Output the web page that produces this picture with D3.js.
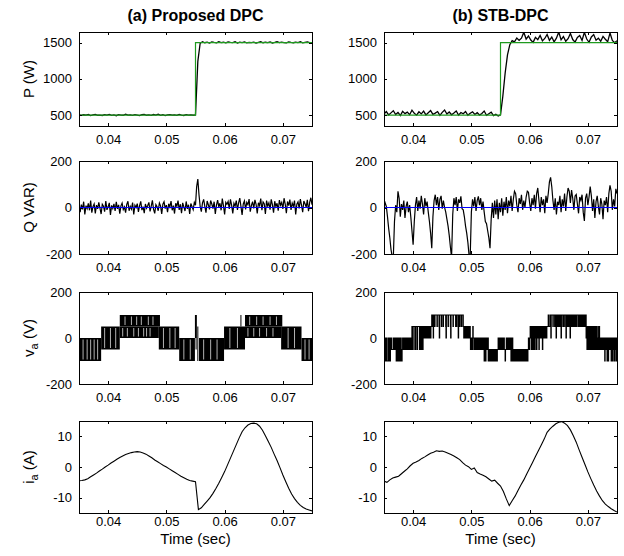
<!DOCTYPE html>
<html>
<head>
<meta charset="utf-8">
<script src="https://cdn.jsdelivr.net/npm/d3@7"></script>
<style>
body { margin: 0; background: #fff; }
text { font-family: "Liberation Sans", Arial, Helvetica, sans-serif; fill: #000; }
</style>
</head>
<body>
<svg id="chart" width="624" height="556"></svg>
<script>
// time axis (sec)
var t_start = 0.035, t_end = 0.075;
var x_ticks = [0.04, 0.05, 0.06, 0.07];

// P (W), one sample every 0.4 ms from t_start
var p_step = 0.0004;
var p_a = [502, 497, 505, 499, 508, 494, 503, 511, 498, 501,
    495, 506, 500, 509, 497, 503, 492, 507, 501, 498,
    512, 499, 504, 496, 507, 500, 493, 505, 509, 498,
    503, 496, 508, 501, 514, 497, 505, 493, 502, 507,
    499, 504, 496, 510, 501, 495, 506, 500, 503, 498,
    502, 1240, 1490,
    1512, 1497, 1505, 1493, 1508, 1501, 1496, 1510, 1499, 1504,
    1495, 1507, 1502, 1498, 1511, 1493, 1505, 1500, 1509, 1496,
    1503, 1498, 1506, 1492, 1501, 1510, 1497, 1504, 1499, 1507,
    1494, 1502, 1513, 1498, 1505, 1500, 1496, 1509, 1502, 1497,
    1506, 1499, 1511, 1495, 1503, 1508, 1500, 1497];
var p_b = [515, 548, 502, 531, 560, 508, 537, 495, 552, 520,
    541, 506, 568, 524, 499, 546, 517, 555, 503, 533,
    562, 511, 528, 549, 496, 538, 571, 514, 543, 505,
    529, 557, 500, 536, 518, 550, 497, 526, 545, 509,
    534, 501, 522, 556, 498, 519, 540, 493, 511, 488,
    505, 760, 1080, 1330, 1470,
    1525, 1508, 1562, 1530, 1560, 1642, 1548, 1590, 1535, 1502,
    1571, 1540, 1598, 1523, 1556, 1612, 1530, 1575, 1509, 1560,
    1644, 1538, 1582, 1517, 1553, 1625, 1541, 1505, 1569, 1596,
    1528, 1640, 1548, 1503, 1577, 1610, 1533, 1560, 1518, 1585,
    1545, 1510, 1632, 1530, 1498, 1525];
// P reference (green)
var p_ref_t = [0.035, 0.055, 0.055, 0.075];
var p_ref = [500, 500, 1500, 1500];

// Q (VAR), one sample every 0.2 ms
var q_step = 0.0002;
var q_a = [5, -20, 12, -8, 25, -30, 8, -5, 18, -12, 30, -22, 4, 15, -25, 10, -6, 22, -3, -28,
    14, 6, -18, 28, -10, 3, 20, -32, 9, -4, 16, -15, 24, -6, 11, -26, 7, 19, -9, 2,
    -22, 13, 27, -14, 5, -7, 21, -30, 10, 0, 17, -19, 8, 26, -11, 4, -24, 15, -3, 9,
    22, -17, 6, 31, -8, -25, 12, 3, -14, 19, 7, -28, 14, 25, -5, 10, -20, 16, 2, 28,
    -12, 8, -26, 18, 5, 30, -10, 14, -24, 20, 3, -15, 26, -6, 12, -28, 17, 4, -9, 22,
    10, 90, 122, 55, 5, -18, 20, 35, 5, -22, 28, 12, -8, 30, 15, -5, 25, -28, 10, 32,
    3, 18, -12, 38, 8, -30, 22, 14, 26, -6, 35, 10, -25, 18, 6, 30, -10, 20, 40, 5,
    -32, 15, 28, -8, 22, 12, 36, -18, 9, 25, -4, 33, 14, -26, 20, 8, 38, -12, 24, 16,
    -28, 30, 6, 20, -9, 35, 12, -22, 27, 4, 18, -14, 32, 10, 22, -6, 40, 15, -24, 26,
    8, 34, -10, 19, 5, 30, -30, 14, 24, -4, 36, 10, -20, 28, 16, 2, 33, -16, 22, 42,
    12];
var q_b = [0, 20, 5, -40, -90, -130, -180, -210, -215, -60,
    10, -20, 70, 40, -40, 15, -10, 30, -45, 5,
    25, -20, 10, -40, -100, -160, -60, 10, 45, -15,
    30, -5, 50, 15, -30, 40, 5, 25, -20, -60,
    -110, -175, -40, 30, 55, 10, 45, -10, 35, 50,
    -5, 30, 0, -20, -50, -80, -120, -170, -215, -30,
    40, 10, 45, -15, 35, 20, 48, -5, -10, -40,
    -80, -110, -150, -205, -210, -20, 35, 5, 45, -15,
    30, 48, 10, 40, -10, 25, -20, -60, -70, -100,
    -130, -175, -50, 20, -45, 30, -30, 35, -50, 20,
    -20, 40, -35, 25, -10, 45, -25, 30, 5, 50,
    -15, 35, 70, 60, 10, -20, 40, 15, 55, -10,
    30, 0, 45, 70, 65, 20, -15, 40, 10, 55,
    -5, 60, 84, 30, -20, 45, 10, 35, -25, 50,
    20, 60, 110, 130, 90, 30, -10, 40, -30, 25,
    10, 50, -20, 35, 5, 60, -15, 45, 84, 70,
    20, 75, 40, -10, 50, 56, 15, -25, 45, 30,
    55, -20, -58, 40, 60, 10, 45, 90, 50, -15,
    35, -45, 25, 50, 5, -30, 40, 15, -50, 30,
    10, 45, -20, 60, 95, 70, -10, 35, 5, 80,
    60];
// Q reference (blue)
var q_ref_t = [0.035, 0.075];
var q_ref = [0, 0];

// v_a (V), proposed DPC: densely switched bands [t0, t1, low, high]
var va_a_blocks = [[0.0350, 0.0388, -100, 0], [0.0388, 0.0420, -50, 50],
    [0.0420, 0.0489, 50, 100], [0.0420, 0.0487, 0, 50], [0.0487, 0.0522, -50, 50],
    [0.0522, 0.0549, -100, 0], [0.0549, 0.0552, 0, 100],
    [0.0556, 0.0599, -100, 0], [0.0599, 0.0635, -50, 50],
    [0.0635, 0.0699, 50, 100], [0.0635, 0.0697, 0, 50], [0.0697, 0.0732, -50, 50],
    [0.0732, 0.0750, -100, 0]];
// short dwell gaps inside the bands [t, low, high]
var va_a_gaps = [[0.0357, -100, 0], [0.0364, -100, 0], [0.0370, -100, 0], [0.0376, -100, 0], [0.0382, -100, 0],
    [0.0394, -50, 50], [0.0404, -50, 50], [0.0413, -50, 50],
    [0.0429, 50, 100], [0.0440, 50, 100], [0.0449, 50, 100], [0.0457, 50, 100], [0.0469, 50, 100], [0.0477, 50, 100],
    [0.0425, 0, 50], [0.0433, 0, 50], [0.0444, 0, 50], [0.0452, 0, 50], [0.0461, 0, 50], [0.0466, 0, 50], [0.0472, 0, 50],
    [0.0495, -50, 50], [0.0506, -50, 50], [0.0515, -50, 50],
    [0.0530, -100, 0], [0.0541, -100, 0],
    [0.0564, -100, 0], [0.0576, -100, 0], [0.0587, -100, 0],
    [0.0609, -50, 50], [0.0622, -50, 50],
    [0.0643, 50, 100], [0.0655, 50, 100], [0.0666, 50, 100], [0.0678, 50, 100], [0.0689, 50, 100],
    [0.0640, 0, 50], [0.0650, 0, 50], [0.0660, 0, 50], [0.0672, 0, 50], [0.0683, 0, 50],
    [0.0709, -50, 50], [0.0720, -50, 50],
    [0.0738, -100, 0], [0.0745, -100, 0]];
// single switching edges [t, low, high]
var va_a_spikes = [[0.0551, -50, 100], [0.0554, -100, 50], [0.0628, 50, 100]];

// v_a (V), STB-DPC: switching instants [t, level]
var va_b = [[0.0350, 0], [0.03515, -100], [0.0353, 0], [0.03545, -100], [0.0357, 0], [0.0359, -100], [0.0361, 0],
    [0.0363, -50], [0.0366, 0], [0.0367, -50], [0.0369, 0], [0.0371, -100], [0.0373, 0], [0.03745, -100],
    [0.0376, 0], [0.0378, -100], [0.0379, 0], [0.03795, -100], [0.0381, -50], [0.0382, 0],
    [0.0384, -50], [0.0385, 0], [0.0387, -50], [0.0388, 0], [0.0390, -50], [0.0391, 0], [0.03925, -50],
    [0.0394, 0], [0.0395, -50], [0.03955, 0], [0.0396, -50], [0.0397, 0],
    [0.0398, 50], [0.0399, -50], [0.0400, 50], [0.0403, -50], [0.04035, 50], [0.0404, -50], [0.04045, 50],
    [0.0407, -50], [0.04075, 50], [0.0411, -50], [0.04115, 50], [0.0412, 0], [0.04125, 50], [0.0413, -50],
    [0.04135, 50], [0.0414, -50], [0.04145, 50], [0.0415, 0], [0.0416, 50], [0.04165, -50], [0.0417, 50],
    [0.0419, 0], [0.04195, 50], [0.0421, 0], [0.04215, 50], [0.0423, 0], [0.04235, 50], [0.0425, 0],
    [0.0426, 50], [0.0428, 0], [0.04285, 50], [0.0430, 0], [0.04305, 50],
    [0.0432, 100], [0.04335, 50], [0.0434, 100], [0.04346, 0], [0.0435, 100], [0.0437, 50], [0.04375, 100],
    [0.0441, 50], [0.04415, 100], [0.04445, 50], [0.0445, 0], [0.04455, 100], [0.04485, 50], [0.0449, 100],
    [0.04515, 50], [0.0452, 100], [0.0456, 50], [0.04565, 0], [0.0457, 100], [0.0460, 50], [0.04605, 100],
    [0.0464, 50], [0.04645, 0], [0.0465, 100], [0.04685, 50], [0.0469, 100], [0.0473, 50], [0.04735, 100],
    [0.0474, 50], [0.04745, 100], [0.0477, 50], [0.04775, 0], [0.0478, 100], [0.0480, 50], [0.04805, 100],
    [0.0483, 50], [0.04835, 100],
    [0.0486, 50], [0.0487, 0], [0.04875, 50], [0.0489, 0], [0.04895, 50], [0.0491, 0], [0.0492, 50],
    [0.0494, 0], [0.04945, 50], [0.0496, 0], [0.04965, 50],
    [0.0498, 0], [0.04985, -50], [0.0499, 0], [0.0500, -50], [0.05005, 0], [0.0502, -50], [0.05025, 50],
    [0.0503, 0], [0.0505, -50], [0.05055, 0], [0.0507, -50], [0.05075, 0], [0.0509, -50], [0.05095, 0],
    [0.0511, -50], [0.0512, 0], [0.0514, -50], [0.05145, 0], [0.0516, -50], [0.05165, 0], [0.0518, -50], [0.05185, 0],
    [0.0520, -50], [0.0521, 0], [0.0522, -100], [0.05225, 0], [0.0524, -50], [0.05245, -100], [0.0525, 0],
    [0.0527, -50], [0.0528, 0], [0.0529, -100], [0.05295, -50], [0.0531, -100], [0.05315, -50], [0.0532, -100],
    [0.05325, -50], [0.0533, -100], [0.05335, -50], [0.0534, -100], [0.05345, -50], [0.0535, -100], [0.05355, -50],
    [0.0537, -100], [0.05375, -50], [0.0538, -100], [0.0539, -50], [0.0540, -100], [0.05405, -50], [0.0542, -100],
    [0.05425, -50], [0.0544, -100], [0.05445, -50],
    [0.0546, 0], [0.05465, -50], [0.0548, 0], [0.05485, -50], [0.0550, 0], [0.05505, -50], [0.0552, 0],
    [0.05525, -50], [0.0554, 0], [0.05545, -50], [0.0556, 0], [0.05565, -50], [0.0558, -100], [0.05585, -50],
    [0.0560, 0], [0.05605, -50], [0.0562, 0], [0.05625, -50], [0.0564, 0], [0.05645, -50], [0.0566, 0], [0.05665, -50],
    [0.0568, -100], [0.05685, 0], [0.0569, -100], [0.05695, -50], [0.0570, -100], [0.05705, 0], [0.0571, -100],
    [0.05715, -50], [0.0572, -100], [0.05725, -50], [0.0573, -100], [0.05735, -50], [0.0574, -100], [0.05745, -50],
    [0.0575, -100], [0.05755, -50], [0.0576, -100], [0.05765, -50], [0.0577, -100], [0.05775, -50], [0.0578, -100],
    [0.05785, -50], [0.0579, -100], [0.05795, -50], [0.0580, -100], [0.05805, -50], [0.0581, -100], [0.05815, -50],
    [0.0582, -100], [0.0583, -50], [0.0584, -100], [0.05845, -50], [0.0585, -100], [0.05855, -50], [0.0586, -100],
    [0.05865, -50], [0.0587, -100], [0.0588, -50], [0.0589, -100], [0.05895, -50], [0.0590, -100], [0.05905, -50],
    [0.0591, -100], [0.05915, -50], [0.0592, -100], [0.0593, -50], [0.0594, -100], [0.05945, -50], [0.0595, -100],
    [0.05955, -50], [0.0596, -100], [0.0597, -50],
    [0.0598, 0], [0.0599, -50], [0.0600, 0], [0.0601, 50], [0.06015, 0], [0.0603, -50], [0.06035, 50], [0.0605, 0],
    [0.06055, -50], [0.0607, 50], [0.06075, 0], [0.0609, -50], [0.06095, 50], [0.0611, 0], [0.06115, 50],
    [0.0612, -50], [0.06125, 50], [0.0614, 0], [0.06145, 50], [0.0616, -50], [0.06165, 50], [0.0618, 0],
    [0.06185, 50], [0.0620, 0], [0.06205, 50], [0.0622, -50], [0.06225, 50], [0.0624, 0], [0.06245, 50],
    [0.0626, 0], [0.06265, 50], [0.0628, 0], [0.06285, 50], [0.0629, 0], [0.06295, 50],
    [0.0631, 50], [0.0632, 100], [0.06325, 50], [0.0635, 100], [0.0636, 50], [0.06365, 0], [0.0637, 100],
    [0.0640, 50], [0.06405, 100], [0.0643, 50], [0.06435, 100], [0.0645, 50], [0.06455, 0], [0.0646, 100],
    [0.0648, 50], [0.06485, 100], [0.0650, 50], [0.06505, 100], [0.0652, 50], [0.06525, 100], [0.0654, 0],
    [0.06545, 100], [0.0657, 50], [0.06575, 100], [0.0659, 50], [0.06595, 100], [0.0662, 50], [0.06625, 0],
    [0.0663, 100], [0.0665, 50], [0.06655, 100], [0.0667, 50], [0.06675, 100], [0.0669, 50], [0.06695, 0],
    [0.0670, 100], [0.0672, 50], [0.06725, 100], [0.0674, 50], [0.06745, 100], [0.0676, 50], [0.06765, 100],
    [0.0678, 50], [0.06785, 100], [0.0680, 50], [0.06805, 100], [0.0683, 50], [0.06835, 100], [0.0685, 50],
    [0.06855, 100], [0.0687, 50], [0.06875, 100], [0.0689, 50], [0.06895, 100], [0.0691, 50], [0.06915, 100],
    [0.0693, 50], [0.06935, 100], [0.0695, 50], [0.06955, 100],
    [0.0697, 0], [0.0698, 50], [0.06985, -50], [0.0700, 50], [0.07005, 0], [0.0702, -50], [0.07025, 50],
    [0.0704, 0], [0.07045, -50], [0.0706, 50], [0.07065, 0], [0.0708, -50], [0.07085, 50], [0.0710, -50],
    [0.07105, 0], [0.0712, 50], [0.07125, -50], [0.0714, 0], [0.07145, 50], [0.0716, -50], [0.07165, 0],
    [0.0718, -50], [0.07185, 50], [0.0720, 0], [0.07205, -50], [0.0722, 0], [0.07225, -50], [0.0724, 0],
    [0.07245, -50], [0.0726, 0], [0.07265, -50], [0.0728, 0],
    [0.0729, -100], [0.07295, 0], [0.0731, -50], [0.07315, 0], [0.0733, -100], [0.07335, 0], [0.0735, -100],
    [0.07355, 0], [0.0737, -50], [0.0738, 0], [0.0740, -100], [0.07405, 0], [0.0742, -100], [0.07425, -50],
    [0.0744, 0], [0.0745, -100], [0.07455, 0], [0.0747, -50], [0.0748, -100], [0.0749, 0], [0.0750, 0]];

// i_a (A), one sample every 0.5 ms
var i_step = 0.0005;
var i_a = [-4.5, -4.4, -4.2, -3.8, -3.2, -2.6, -2.0, -1.3, -0.7, 0.0,
    0.6, 1.3, 1.9, 2.5, 3.1, 3.6, 4.1, 4.4, 4.7, 4.9,
    5.0, 4.9, 4.6, 4.2, 3.6, 3.0, 2.3, 1.7, 1.1, 0.5,
    0.0, -0.6, -1.2, -1.8, -2.4, -3.0, -3.5, -4.0, -4.4, -4.6,
    -4.8, -13.9, -13.3, -12.2, -11.1, -10.0, -8.6, -7.0, -5.3, -3.4,
    -1.5, 0.7, 2.9, 5.1, 7.3, 9.5, 11.5, 12.8, 13.7, 14.2,
    14.3, 14.1, 13.3, 12.0, 10.2, 8.3, 6.4, 4.2, 2.1, -0.2,
    -2.6, -4.8, -6.9, -8.8, -10.3, -11.5, -12.5, -13.2, -13.7, -14.0,
    -14.3];
var i_b = [-4.6, -5.0, -4.2, -3.6, -3.3, -3.0, -2.2, -1.4, -0.6, 0.4,
    1.2, 1.6, 2.1, 2.8, 3.3, 3.9, 4.5, 4.8, 5.3, 5.1,
    5.2, 4.9, 4.5, 4.1, 3.6, 3.0, 2.4, 1.4, 0.6, 0.1,
    -0.8, -0.3, -1.8, -2.3, -2.7, -3.2, -3.9, -4.6, -4.3, -5.3,
    -6.2, -8.0, -10.4, -12.6, -11.0, -9.5, -7.7, -5.9, -4.2, -2.3,
    -0.4, 1.5, 3.4, 5.3, 7.2, 9.1, 11.3, 12.4, 13.3, 14.1,
    14.6, 14.8, 14.3, 13.5, 12.1, 10.2, 8.1, 5.6, 3.2, 0.8,
    -1.6, -3.8, -5.9, -7.8, -9.5, -11.0, -12.1, -12.9, -13.6, -14.2,
    -14.7];

// axis settings per row
var y_domains = [[350, 1645], [-200, 200], [-200, 200], [-15, 15]];
var y_ticks = [[500, 1000, 1500], [-200, 0, 200], [-200, 0, 200], [-10, 0, 10]];
var titles = ["(a) Proposed DPC", "(b) STB-DPC"];

// layout
var cols = [{x0: 79, x1: 312}, {x0: 384, x1: 617}];
var rows = [{y0: 32, y1: 126, pad: 9}, {y0: 161, y1: 254, pad: 9}, {y0: 292, y1: 384, pad: 9}, {y0: 421, y1: 513, pad: 4}];
var green = "#1f9a1f", blue = "#0000ff";

var svg = d3.select("#chart");

function makePanel(c, r) {
    var x = d3.scaleLinear().domain([t_start, t_end]).range([cols[c].x0, cols[c].x1]);
    var y = d3.scaleLinear().domain(y_domains[r]).range([rows[r].y1, rows[r].y0]);
    var id = "clip_" + c + "_" + r;

    svg.append("clipPath").attr("id", id).append("rect")
        .attr("x", cols[c].x0).attr("y", rows[r].y0)
        .attr("width", cols[c].x1 - cols[c].x0)
        .attr("height", rows[r].y1 - rows[r].y0);

    var g = svg.append("g");
    var plot = g.append("g").attr("clip-path", "url(#" + id + ")");
    var axes = g.append("g");

    axes.append("g").attr("transform", "translate(0," + rows[r].y1 + ")")
        .call(d3.axisBottom(x).tickValues(x_ticks).tickSize(-3).tickPadding(rows[r].pad).tickFormat(d3.format(".2f")));
    axes.append("g").attr("transform", "translate(0," + rows[r].y0 + ")")
        .call(d3.axisTop(x).tickValues(x_ticks).tickSize(-3).tickFormat(""));
    axes.append("g").attr("transform", "translate(" + cols[c].x0 + ",0)")
        .call(d3.axisLeft(y).tickValues(y_ticks[r]).tickSize(-3).tickPadding(7)
            .tickFormat(function(d) { return String(d); }));
    axes.append("g").attr("transform", "translate(" + cols[c].x1 + ",0)")
        .call(d3.axisRight(y).tickValues(y_ticks[r]).tickSize(-3).tickFormat(""));

    axes.selectAll(".domain").remove();
    axes.selectAll("g").attr("font-family", null).attr("font-size", null);
    axes.selectAll("text").style("font-size", "13px");
    axes.selectAll("line").attr("stroke", "#000").attr("shape-rendering", "crispEdges");

    // frame on top
    g.append("rect")
        .attr("x", cols[c].x0).attr("y", rows[r].y0)
        .attr("width", cols[c].x1 - cols[c].x0)
        .attr("height", rows[r].y1 - rows[r].y0)
        .attr("fill", "none").attr("stroke", "#000").attr("stroke-width", 1)
        .attr("shape-rendering", "crispEdges");

    return {x: x, y: y, plot: plot};
}

// sampled series -> path
function drawSeries(p, values, step, color, w) {
    var line = d3.line()
        .x(function(d, i) { return p.x(t_start + i * step); })
        .y(function(d) { return p.y(d); });
    p.plot.append("path").datum(values)
        .attr("d", line)
        .attr("fill", "none").attr("stroke", color).attr("stroke-width", w);
}

function drawRef(p, ts, values, color) {
    var line = d3.line()
        .x(function(d, i) { return p.x(ts[i]); })
        .y(function(d) { return p.y(d); });
    p.plot.append("path").datum(values)
        .attr("d", line)
        .attr("fill", "none").attr("stroke", color).attr("stroke-width", 1.2);
}

var series = [[p_a, p_b], [q_a, q_b], null, [i_a, i_b]];
var steps = [p_step, q_step, null, i_step];

for (var c = 0; c < 2; c++) {
    for (var r = 0; r < 4; r++) {
        var p = makePanel(c, r);
        if (r == 0) {
            drawSeries(p, series[r][c], steps[r], "#000", 1.3);
            drawRef(p, p_ref_t, p_ref, green);
        } else if (r == 1) {
            drawSeries(p, series[r][c], steps[r], "#000", 1.2);
            drawRef(p, q_ref_t, q_ref, blue);
        } else if (r == 3) {
            drawSeries(p, series[r][c], steps[r], "#000", 1.1);
        } else if (c == 0) {
            // dense switching bands
            p.plot.selectAll(".va_block")
                .data(va_a_blocks)
                .enter().append("rect")
                .attr("class", "va_block")
                .attr("x", function(d) { return p.x(d[0]); })
                .attr("width", function(d) { return p.x(d[1]) - p.x(d[0]); })
                .attr("y", function(d) { return p.y(d[3]); })
                .attr("height", function(d) { return p.y(d[2]) - p.y(d[3]); })
                .attr("fill", "#000");
            p.plot.selectAll(".va_gap")
                .data(va_a_gaps)
                .enter().append("line")
                .attr("class", "va_gap")
                .attr("x1", function(d) { return p.x(d[0]); })
                .attr("x2", function(d) { return p.x(d[0]); })
                .attr("y1", function(d) { return p.y(d[2]) + 1.5; })
                .attr("y2", function(d) { return p.y(d[1]) - 1.5; })
                .attr("stroke", "#fff").attr("stroke-width", 0.7);
            p.plot.selectAll(".va_spike")
                .data(va_a_spikes)
                .enter().append("line")
                .attr("class", "va_spike")
                .attr("x1", function(d) { return p.x(d[0]); })
                .attr("x2", function(d) { return p.x(d[0]); })
                .attr("y1", function(d) { return p.y(d[2]); })
                .attr("y2", function(d) { return p.y(d[1]); })
                .attr("stroke", "#000").attr("stroke-width", 1);
        } else {
            var step_line = d3.line()
                .curve(d3.curveStepAfter)
                .x(function(d) { return p.x(d[0]); })
                .y(function(d) { return p.y(d[1]); });
            p.plot.append("path").datum(va_b)
                .attr("d", step_line)
                .attr("fill", "none").attr("stroke", "#000").attr("stroke-width", 1.2);
        }
    }

    // column title and x label
    var mid = (cols[c].x0 + cols[c].x1) / 2;
    svg.append("text")
        .attr("x", mid).attr("y", 21)
        .attr("text-anchor", "middle")
        .style("font-size", "16px").style("font-weight", "bold")
        .text(titles[c]);
    svg.append("text")
        .attr("x", mid).attr("y", 544)
        .attr("text-anchor", "middle")
        .style("font-size", "15px")
        .text("Time (sec)");
}

// y labels (left column only)
var y_labels = [["P (W)", "", ""], ["Q VAR)", "", ""], ["v", "a", " (V)"], ["i", "a", " (A)"]];
y_labels.forEach(function(lab, r) {
    var cy = (rows[r].y0 + rows[r].y1) / 2;
    var t = svg.append("text")
        .attr("transform", "translate(34," + cy + ") rotate(-90)")
        .attr("text-anchor", "middle")
        .style("font-size", "15px");
    t.append("tspan").text(lab[0]);
    if (lab[1] != "") {
        t.append("tspan").attr("dy", 4).style("font-size", "11px").text(lab[1]);
        t.append("tspan").attr("dy", -4).text(lab[2]);
    }
});
</script>
</body>
</html>
